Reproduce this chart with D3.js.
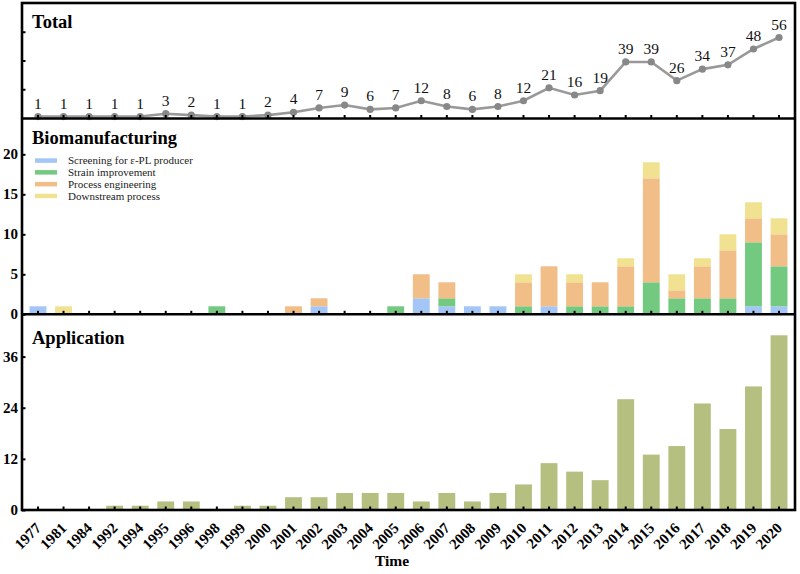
<!DOCTYPE html>
<html><head><meta charset="utf-8">
<script src="https://cdn.jsdelivr.net/npm/d3@7"></script>
<style>body{margin:0;background:#fff}svg{display:block}</style>
</head><body><svg id="c" width="800" height="574"></svg>
<script>
const years = ["1977","1981","1984","1992","1994","1995","1996","1998","1999","2000","2001","2002","2003","2004","2005","2006","2007","2008","2009","2010","2011","2012","2013","2014","2015","2016","2017","2018","2019","2020"];
const total = [1,1,1,1,1,3,2,1,1,2,4,7,9,6,7,12,8,6,8,12,21,16,19,39,39,26,34,37,48,56];
const screening = [1,0,0,0,0,0,0,0,0,0,0,1,0,0,0,2,1,1,1,0,1,0,0,0,0,0,0,0,1,1];
const strain =    [0,0,0,0,0,0,0,1,0,0,0,0,0,0,1,0,1,0,0,1,0,1,1,1,4,2,2,2,8,5];
const processEng =[0,0,0,0,0,0,0,0,0,0,1,1,0,0,0,3,2,0,0,3,5,3,3,5,13,1,4,6,3,4];
const downstream =[0,1,0,0,0,0,0,0,0,0,0,0,0,0,0,0,0,0,0,1,0,1,0,1,2,2,1,2,2,2];
const application=[0,0,0,1,1,2,2,0,1,1,3,3,4,4,4,2,4,2,4,6,11,9,7,26,13,15,25,19,29,41];
const seriesNames = ["Screening for ε-PL producer","Strain improvement","Process engineering","Downstream process"];
const seriesColors = ["#a3c6f6","#74c980","#f0be86","#f0e290"];
const totalTicks = [0,20,40,60];
const bioTicks = [0,5,10,15,20];
const appTicks = [0,12,24,36];

const svg = d3.select("#c");
const font = "'Liberation Serif','Times New Roman',serif";
const L = 22, R = 795, T = 3, B1 = 118.5, B2 = 314.3, B3 = 510;

const x = d3.scaleBand().domain(years).range([25.2, 791.8]).paddingInner(0.34).paddingOuter(0.17);
const cx = d => x(d) + x.bandwidth()/2;

const yT = d3.scaleLinear().domain([0,80]).range([118,3]);
const yB = d3.scaleLinear().domain([0,20]).range([B2,154.3]);
const yA = d3.scaleLinear().domain([0,36]).range([B3,356.6]);

// Biomanufacturing stacked bars
const rows = years.map((y,i)=>({year:y, s0:screening[i], s1:strain[i], s2:processEng[i], s3:downstream[i]}));
const stack = d3.stack().keys(["s0","s1","s2","s3"])(rows);
svg.append("g").selectAll("g").data(stack).join("g")
  .attr("fill",(d,i)=>seriesColors[i])
  .selectAll("rect").data(d=>d).join("rect")
  .attr("x",d=>x(d.data.year)).attr("width",x.bandwidth())
  .attr("y",d=>yB(d[1])).attr("height",d=>yB(d[0])-yB(d[1]));

// Application bars
svg.append("g").selectAll("rect").data(years).join("rect")
  .attr("x",d=>x(d)).attr("width",x.bandwidth())
  .attr("y",(d,i)=>yA(application[i])).attr("height",(d,i)=>yA(0)-yA(application[i]))
  .attr("fill","#b4bf80");

// Total line
const line = d3.line().x((d,i)=>cx(years[i])).y(d=>yT(d));
svg.append("path").datum(total).attr("d",line).attr("fill","none")
  .attr("stroke","#999").attr("stroke-width",2.6);
svg.append("g").selectAll("circle").data(total).join("circle")
  .attr("cx",(d,i)=>cx(years[i])).attr("cy",d=>yT(d)).attr("r",3.6).attr("fill","#888");
svg.append("g").selectAll("text").data(total).join("text")
  .attr("x",(d,i)=>cx(years[i])).attr("y",d=>yT(d)-8)
  .attr("text-anchor","middle").attr("font-family",font).attr("font-size",15.5)
  .attr("fill","#111").text(d=>d);

// Axes (inward ticks)
function yAxis(scale, ticks, labels){
  const g = svg.append("g").attr("transform",`translate(${L},0)`)
    .call(d3.axisRight(scale).tickValues(ticks).tickSize(3.5).tickFormat(""));
  g.select(".domain").remove();
  g.selectAll("line").attr("stroke","#000").attr("stroke-width",2);
  if(labels){
    svg.append("g").selectAll("text").data(ticks).join("text")
      .attr("x",L-4).attr("y",d=>scale(d)).attr("dy","0.34em")
      .attr("text-anchor","end").attr("font-family",font).attr("font-weight","bold")
      .attr("font-size",15).text(d=>d);
  }
}
yAxis(yT,totalTicks.slice(1),false);
yAxis(yB,bioTicks,true);
yAxis(yA,appTicks,true);

function xTicks(yy){
  const g = svg.append("g").attr("transform",`translate(0,${yy})`)
    .call(d3.axisTop(x).tickSize(3.5).tickFormat(""));
  g.select(".domain").remove();
  g.selectAll("line").attr("stroke","#000").attr("stroke-width",2);
}
xTicks(B1); xTicks(B2); xTicks(B3);

// Frame
const fr = svg.append("g").attr("fill","none").attr("stroke","#000").attr("stroke-width",2.6);
fr.append("rect").attr("x",L).attr("y",T).attr("width",R-L).attr("height",B3-T);
fr.append("line").attr("x1",L).attr("x2",R).attr("y1",B1).attr("y2",B1);
fr.append("line").attr("x1",L).attr("x2",R).attr("y1",B2).attr("y2",B2);

// X labels
svg.append("g").selectAll("text").data(years).join("text")
  .attr("transform",d=>`translate(${cx(d)+4},${529}) rotate(-45)`)
  .attr("text-anchor","end").attr("font-family",font).attr("font-weight","bold")
  .attr("font-size",15).text(d=>d);
svg.append("text").attr("x",392).attr("y",566).attr("text-anchor","middle")
  .attr("font-family",font).attr("font-weight","bold").attr("font-size",15.5).text("Time");

// Panel titles
const titles = [["Total",28],["Biomanufacturing",143.5],["Application",344]];
svg.append("g").selectAll("text").data(titles).join("text")
  .attr("x",32).attr("y",d=>d[1]).attr("font-family",font).attr("font-weight","bold")
  .attr("font-size",18.5).text(d=>d[0]);

// Legend
const lg = svg.append("g").selectAll("g").data(seriesNames).join("g")
  .attr("transform",(d,i)=>`translate(35,${160.5 + i*11.8})`);
lg.append("rect").attr("x",0).attr("y",-2.2).attr("width",22).attr("height",4.5)
  .attr("fill",(d,i)=>seriesColors[i]);
lg.append("text").attr("x",33).attr("y",0).attr("dy","0.35em").attr("font-family",font)
  .attr("font-size",11).attr("fill","#222").text(d=>d);
</script></body></html>
